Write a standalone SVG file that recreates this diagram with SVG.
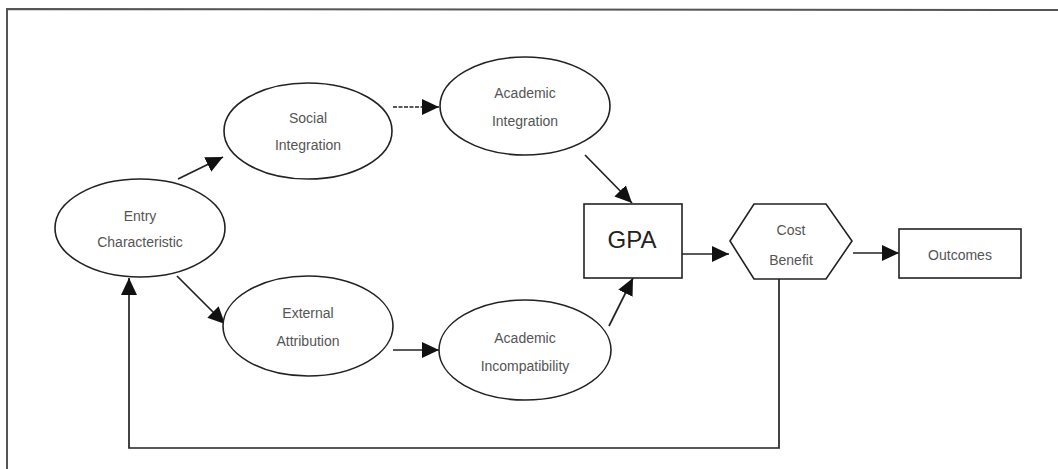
<svg xmlns="http://www.w3.org/2000/svg" width="1058" height="469" viewBox="0 0 1058 469">
<style>
.frame{stroke:#555;stroke-width:2;fill:none}
.shape{fill:#fff;stroke:#222;stroke-width:1.6}
.lbl{font-family:"Liberation Sans",Arial,sans-serif;font-size:14px;fill:#555;text-anchor:middle}
.big{font-family:"Liberation Sans",Arial,sans-serif;font-size:24px;fill:#222;text-anchor:middle}
.conn{stroke:#222;stroke-width:1.7;fill:none}
.dash{stroke-dasharray:4 1.5}
</style>
<defs>
<marker id="ah" markerUnits="userSpaceOnUse" markerWidth="18" markerHeight="16" refX="17" refY="8" orient="auto">
<path d="M0,0 L17,8 L0,16 Z" fill="#111"/>
</marker>
</defs>
<rect width="1058" height="469" fill="#fff"/>
<path class="frame" d="M7,469 L7,9 L1058,10"/>
<g id="connectors">
<line class="conn" x1="178" y1="179" x2="223" y2="157" marker-end="url(#ah)"/>
<line class="conn" x1="177" y1="276" x2="225" y2="324" marker-end="url(#ah)"/>
<line class="conn dash" x1="393" y1="107" x2="439" y2="107" marker-end="url(#ah)"/>
<line class="conn" x1="393" y1="350" x2="439" y2="350" marker-end="url(#ah)"/>
<line class="conn" x1="585" y1="155" x2="632" y2="203" marker-end="url(#ah)"/>
<line class="conn" x1="609" y1="326" x2="633" y2="278" marker-end="url(#ah)"/>
<line class="conn" x1="682" y1="254" x2="729" y2="254" marker-end="url(#ah)"/>
<line class="conn" x1="853" y1="253" x2="899" y2="253" marker-end="url(#ah)"/>
<polyline class="conn" points="779,279 779,448 129,448 129,278" marker-end="url(#ah)"/>
</g>
<g id="entry">
<ellipse class="shape" cx="140" cy="228" rx="85" ry="49"/>
<text class="lbl" x="140" y="221">Entry</text>
<text class="lbl" x="140" y="247">Characteristic</text>
</g>
<g id="social">
<ellipse class="shape" cx="308" cy="131" rx="84" ry="48"/>
<text class="lbl" x="308" y="123">Social</text>
<text class="lbl" x="308" y="150">Integration</text>
</g>
<g id="academic-integration">
<ellipse class="shape" cx="525" cy="106" rx="85" ry="49"/>
<text class="lbl" x="525" y="98">Academic</text>
<text class="lbl" x="525" y="126">Integration</text>
</g>
<g id="external">
<ellipse class="shape" cx="308" cy="326" rx="85" ry="50"/>
<text class="lbl" x="308" y="318">External</text>
<text class="lbl" x="308" y="346">Attribution</text>
</g>
<g id="academic-incompatibility">
<ellipse class="shape" cx="525" cy="350" rx="86" ry="50"/>
<text class="lbl" x="525" y="343">Academic</text>
<text class="lbl" x="525" y="371">Incompatibility</text>
</g>
<g id="gpa">
<rect class="shape" x="584" y="204" width="98" height="74"/>
<text class="big" x="632" y="248">GPA</text>
</g>
<g id="cost-benefit">
<polygon class="shape" points="730,241 754,204 826,204 852,241 826,279 754,279"/>
<text class="lbl" x="791" y="235">Cost</text>
<text class="lbl" x="791" y="265">Benefit</text>
</g>
<g id="outcomes">
<rect class="shape" x="899" y="229" width="122" height="49"/>
<text class="lbl" x="960" y="260">Outcomes</text>
</g>
</svg>
